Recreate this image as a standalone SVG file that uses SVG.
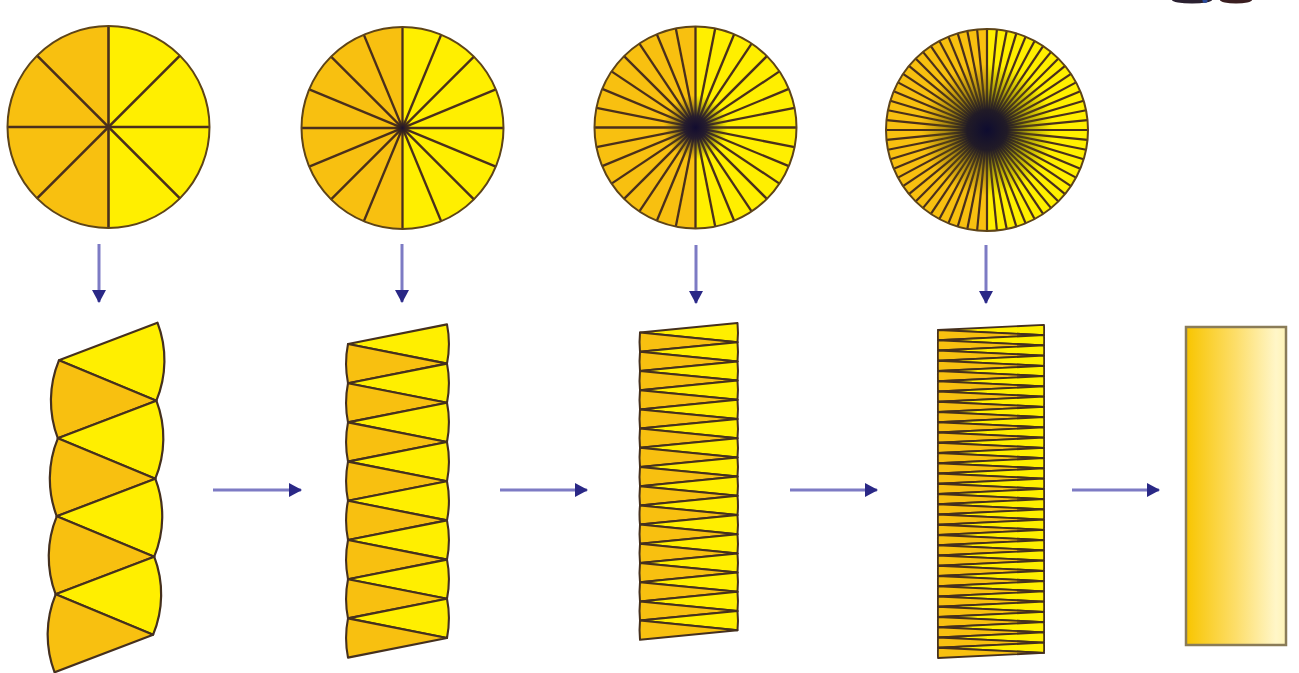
<svg xmlns="http://www.w3.org/2000/svg" xmlns:xlink="http://www.w3.org/1999/xlink" width="1299" height="673" viewBox="0 0 1299 673">
<style>
.yel{fill:#FFEF00}
.org{fill:#F8C010}
.disc{stroke:#5e4418;stroke-width:2}
.rad{stroke:#4a2f1c;fill:none}
.strip{stroke:#45301e;stroke-linejoin:round}
.arrow{stroke:#7d7bc4;stroke-width:3;fill:none;marker-end:url(#ah)}
</style>
<defs>
<marker id="ah" markerUnits="userSpaceOnUse" markerWidth="14" markerHeight="14" refX="12" refY="7" orient="auto">
<path d="M0,0 L13,7 L0,14 Z" fill="#2a2886"/>
</marker>
<linearGradient id="g5" x1="0" y1="0" x2="1" y2="0">
<stop offset="0" stop-color="#F8C500"/>
<stop offset="0.5" stop-color="#FDDE6A"/>
<stop offset="0.9" stop-color="#FFF6C8"/>
<stop offset="1" stop-color="#FFF4B8"/>
</linearGradient>
<radialGradient id="dk2"><stop offset="0" stop-color="#1a1030" stop-opacity="1"/><stop offset="1" stop-color="#3a2a10" stop-opacity="0"/></radialGradient>
<radialGradient id="dk3"><stop offset="0" stop-color="#120c30" stop-opacity="1"/><stop offset="0.35" stop-color="#1e1830" stop-opacity="0.85"/><stop offset="1" stop-color="#6a6010" stop-opacity="0"/></radialGradient>
<radialGradient id="dk4"><stop offset="0" stop-color="#0e0c30" stop-opacity="1"/><stop offset="0.3" stop-color="#1c1828" stop-opacity="0.9"/><stop offset="0.65" stop-color="#5a5010" stop-opacity="0.45"/><stop offset="1" stop-color="#6a5a00" stop-opacity="0"/></radialGradient>
<path id="lhalf" d="M0,-101 A101,101 0 0 0 0,101 Z"/>
<line id="dm" x1="-101" y1="0" x2="101" y2="0"/>
<g id="a2"><use xlink:href="#dm"/><use xlink:href="#dm" transform="rotate(11.25)"/></g>
<g id="a4"><use xlink:href="#a2"/><use xlink:href="#a2" transform="rotate(22.5)"/></g>
<g id="a8"><use xlink:href="#a4"/><use xlink:href="#a4" transform="rotate(45)"/></g>
<g id="a16"><use xlink:href="#a8"/><use xlink:href="#a8" transform="rotate(90)"/></g>
<g id="b2"><use xlink:href="#dm"/><use xlink:href="#dm" transform="rotate(5.625)"/></g>
<g id="b4"><use xlink:href="#b2"/><use xlink:href="#b2" transform="rotate(11.25)"/></g>
<g id="b8"><use xlink:href="#b4"/><use xlink:href="#b4" transform="rotate(22.5)"/></g>
<g id="b16"><use xlink:href="#b8"/><use xlink:href="#b8" transform="rotate(45)"/></g>
<g id="b32"><use xlink:href="#b16"/><use xlink:href="#b16" transform="rotate(90)"/></g>
<g id="p1"><path class="yel" d="M0,0 L98,-39 A105.5,105.5 0 0 1 98,39 Z"/><path class="org" transform="translate(98,39)" d="M0,0 L-98,-39 A105.5,105.5 0 0 0 -98,39 Z"/></g>
<g id="q1"><path class="yel" d="M0,0 L99,-19.6 A101,101 0 0 1 99,19.6 Z"/><path class="org" transform="translate(99,19.6)" d="M0,0 L-99,-19.6 A101,101 0 0 0 -99,19.6 Z"/></g>
<g id="q2"><use xlink:href="#q1"/><use xlink:href="#q1" y="39.2"/></g>
<g id="q4"><use xlink:href="#q2"/><use xlink:href="#q2" y="78.4"/></g>
<g id="q8"><use xlink:href="#q4"/><use xlink:href="#q4" y="156.8"/></g>
<g id="r1"><path class="yel" d="M0,0 L97.5,-9.6 A98,98 0 0 1 97.5,9.6 Z"/><path class="org" transform="translate(97.5,9.6)" d="M0,0 L-97.5,-9.6 A98,98 0 0 0 -97.5,9.6 Z"/></g>
<g id="r2"><use xlink:href="#r1"/><use xlink:href="#r1" y="19.2"/></g>
<g id="r4"><use xlink:href="#r2"/><use xlink:href="#r2" y="38.4"/></g>
<g id="r8"><use xlink:href="#r4"/><use xlink:href="#r4" y="76.8"/></g>
<g id="r16"><use xlink:href="#r8"/><use xlink:href="#r8" y="153.6"/></g>
<g id="t1"><path class="yel" d="M0,0 L106,-5.125 A106.1,106.1 0 0 1 106,5.125 Z"/><path class="org" transform="translate(106,5.125)" d="M0,0 L-106,-5.125 A106.1,106.1 0 0 0 -106,5.125 Z"/></g>
<g id="t2"><use xlink:href="#t1"/><use xlink:href="#t1" y="10.25"/></g>
<g id="t4"><use xlink:href="#t2"/><use xlink:href="#t2" y="20.5"/></g>
<g id="t8"><use xlink:href="#t4"/><use xlink:href="#t4" y="41"/></g>
<g id="t16"><use xlink:href="#t8"/><use xlink:href="#t8" y="82"/></g>
<g id="t32"><use xlink:href="#t16"/><use xlink:href="#t16" y="164"/></g>
</defs>
<rect width="1299" height="673" fill="#ffffff"/>

<g id="corner-fragment">
<ellipse cx="1192" cy="0" rx="20" ry="3.5" fill="#2a2030"/>
<ellipse cx="1236" cy="0" rx="16" ry="3.5" fill="#3a1e20"/>
<circle cx="1205" cy="0.5" r="2.5" fill="#2a4a9a"/>
</g>

<g id="circle1" transform="translate(108.5,127)">
<circle r="101" class="yel"/>
<use xlink:href="#lhalf" class="org"/>
<g class="rad" style="stroke-width:2.6">
<use xlink:href="#dm"/><use xlink:href="#dm" transform="rotate(45)"/><use xlink:href="#dm" transform="rotate(90)"/><use xlink:href="#dm" transform="rotate(135)"/>
</g>
<circle r="101" fill="none" class="disc"/>
</g>

<g id="circle2" transform="translate(402.5,128)">
<circle r="101" class="yel"/>
<use xlink:href="#lhalf" class="org"/>
<g class="rad" style="stroke-width:2.3">
<use xlink:href="#dm"/><use xlink:href="#dm" transform="rotate(22.5)"/><use xlink:href="#dm" transform="rotate(45)"/><use xlink:href="#dm" transform="rotate(67.5)"/><use xlink:href="#dm" transform="rotate(90)"/><use xlink:href="#dm" transform="rotate(112.5)"/><use xlink:href="#dm" transform="rotate(135)"/><use xlink:href="#dm" transform="rotate(157.5)"/>
</g>
<circle r="9" fill="url(#dk2)"/>
<circle r="101" fill="none" class="disc"/>
</g>

<g id="circle3" transform="translate(695.5,127.5)">
<circle r="101" class="yel"/>
<use xlink:href="#lhalf" class="org"/>
<g class="rad" style="stroke-width:2.3"><use xlink:href="#a16"/></g>
<circle r="32" fill="url(#dk3)"/>
<circle r="101" fill="none" class="disc"/>
</g>

<g id="circle4" transform="translate(987,130)">
<circle r="101" class="yel"/>
<use xlink:href="#lhalf" class="org"/>
<g class="rad" style="stroke-width:2.2"><use xlink:href="#b32"/></g>
<circle r="66" fill="url(#dk4)"/>
<circle r="101" fill="none" class="disc"/>
</g>

<g id="strip1" class="strip" style="stroke-width:2.2" transform="rotate(0.8 106 500)">
<use xlink:href="#p1" x="57" y="361"/>
<use xlink:href="#p1" x="57" y="439"/>
<use xlink:href="#p1" x="57" y="517"/>
<use xlink:href="#p1" x="57" y="595"/>
</g>

<g id="strip2" class="strip" style="stroke-width:2.1">
<use xlink:href="#q8" x="348" y="344"/>
</g>

<g id="strip3" class="strip" style="stroke-width:2">
<use xlink:href="#r16" x="640" y="332.6"/>
</g>

<g id="strip4" class="strip" style="stroke-width:1.8">
<use xlink:href="#t32" x="938" y="330"/>
</g>

<g id="rect5">
<rect x="1186" y="327" width="100" height="318" fill="url(#g5)" stroke="#8a7c58" stroke-width="2.5"/>
</g>

<g id="connectors">
<line class="arrow" x1="99" y1="244" x2="99" y2="302"/>
<line class="arrow" x1="402" y1="244" x2="402" y2="302"/>
<line class="arrow" x1="696" y1="245" x2="696" y2="303"/>
<line class="arrow" x1="986" y1="245" x2="986" y2="303"/>
<line class="arrow" x1="213" y1="490" x2="301" y2="490"/>
<line class="arrow" x1="500" y1="490" x2="587" y2="490"/>
<line class="arrow" x1="790" y1="490" x2="877" y2="490"/>
<line class="arrow" x1="1072" y1="490" x2="1159" y2="490"/>
</g>
</svg>
